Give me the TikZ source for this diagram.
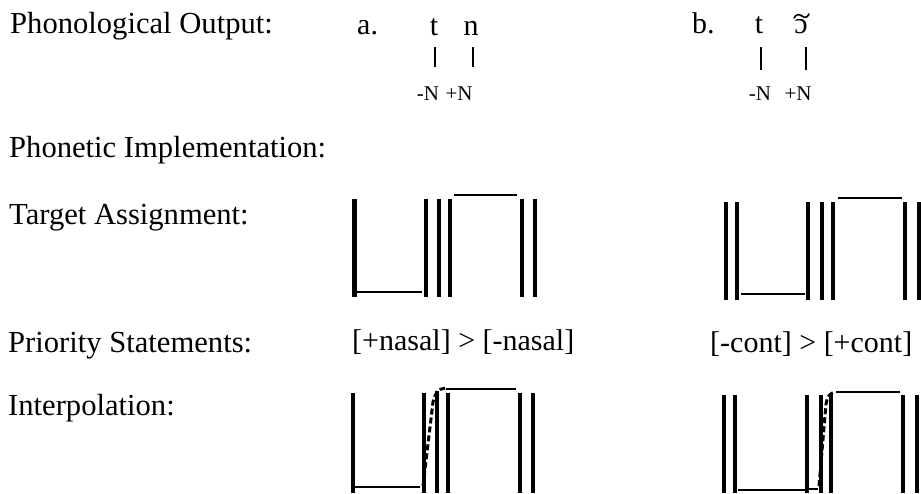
\documentclass[tikz,border=0pt]{standalone}
\usepackage{fontspec}
\setmainfont{Liberation Serif}
\begin{document}
\begin{tikzpicture}[x=1pt,y=-1pt,
  lbl/.style={anchor=base west,inner sep=0pt,font=\fontsize{30.6}{36}\selectfont},
  stmt/.style={anchor=base west,inner sep=0pt,font=\fontsize{30}{36}\selectfont},
  seg/.style={anchor=base,inner sep=0pt,font=\fontsize{30}{36}\selectfont},
  feat/.style={anchor=base,inner sep=0pt,font=\fontsize{21}{25}\selectfont},
  tick/.style={line width=2.2pt},
  tildemark/.style={line width=1.6pt,line cap=round},
  bar/.style={line width=4.2pt},
  hline/.style={line width=2pt},
  interp/.style={line width=3pt,dash pattern=on 6pt off 3pt}]
\useasboundingbox (0,0) rectangle (921,493);
% row labels
\node[lbl] (po) at (10,33) {Phonological Output:};
\node[lbl] (pi) at (9,157) {Phonetic Implementation:};
\node[lbl] (ta) at (9,224) {Target Assignment:};
\node[lbl] (ps) at (8,352) {Priority Statements:};
\node[lbl] (ip) at (8,415) {Interpolation:};
% phonological output a
\node[stmt] (la) at (357,34) {a.};
\node[seg] (ta1) at (434,35) {t};
\node[seg] (na1) at (471,35) {n};
\node[feat] (ma1) at (428,100) {-N};
\node[feat] (pa1) at (459,100) {+N};
\coordinate (ta1t) at (435,47); \coordinate (ta1b) at (435,67);
\coordinate (na1t) at (473,47); \coordinate (na1b) at (473,67);
\draw[tick] (ta1t) -- (ta1b);
\draw[tick] (na1t) -- (na1b);
% phonological output b
\node[stmt] (lb) at (692,33) {b.};
\node[seg] (tb1) at (759,33) {t};
\node[seg] (ob1) at (801,33) {ɔ};
\draw[tildemark] (794,18) .. controls (796,14) and (799,14) .. (802,16)
  .. controls (805,18) and (807,18) .. (809,14);
\node[feat] (mb1) at (760,100) {-N};
\node[feat] (pb1) at (798,100) {+N};
\coordinate (tb1t) at (761,47); \coordinate (tb1b) at (761,70);
\coordinate (ob1u) at (806,47); \coordinate (ob1d) at (806,70);
\draw[tick] (tb1t) -- (tb1b);
\draw[tick] (ob1u) -- (ob1d);
% target assignment a
\foreach \x in {354.5,426,439,450,522,535} \draw[bar] (\x,199) -- (\x,297);
\draw[hline] (357,292) -- (422,292);
\draw[hline] (454,195) -- (517,195);
% target assignment b
\foreach \x in {726,737,808,822,833,905,919} \draw[bar] (\x,202) -- (\x,300);
\draw[hline] (741,294) -- (805,294);
\draw[hline] (838,198) -- (902,198);
% priority statements
\node[stmt] (pra) at (352,350) {[+nasal] > [-nasal]};
\node[stmt] (prb) at (710,352) {[-cont] > [+cont]};
% interpolation a
\foreach \x in {353,424,448,520,533} \draw[bar] (\x,393) -- (\x,493);
\draw[bar] (437,391) -- (437,493);
\draw[hline] (355,487) -- (420,487);
\draw[hline] (446,389) -- (516,389);
\draw[interp] (423,486) -- (433,402) .. controls (435,393) and (438,389) .. (445,388);
% interpolation b
\foreach \x in {724,735,807,821,903,917} \draw[bar] (\x,395) -- (\x,493);
\draw[bar] (831,393) -- (831,493);
\draw[hline] (738,490) -- (805,490);
\draw[hline] (807,489) -- (818,489);
\draw[hline] (836,392) -- (900,392);
\draw[interp] (819,486) -- (826,404) .. controls (827,397) and (830,393) .. (835,392);
\end{tikzpicture}
\end{document}
